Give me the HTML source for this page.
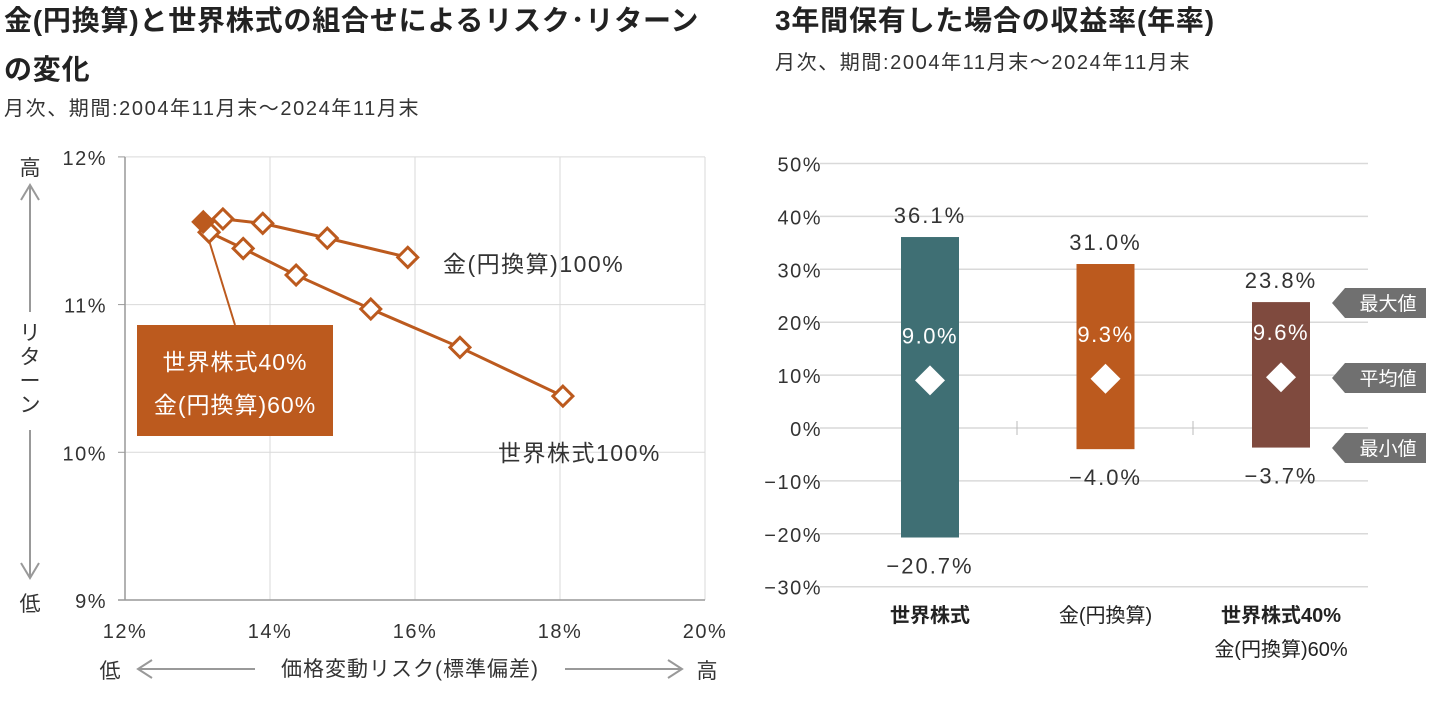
<!DOCTYPE html>
<html><head><meta charset="utf-8">
<style>
html,body{margin:0;padding:0;background:#fff;}
body{width:1440px;height:702px;overflow:hidden;font-family:"Liberation Sans","Noto Sans CJK JP",sans-serif;}
svg text{font-family:"Liberation Sans","Noto Sans CJK JP",sans-serif;}
</style></head>
<body>
<svg id="chart" width="1440" height="702" viewBox="0 0 1440 702">
<g>
<text x="4" y="30" font-size="28" font-weight="bold" fill="#222" letter-spacing="0.8">金(円換算)と世界株式の組合せによるリスク･リターン</text>
<text x="4" y="79" font-size="28" font-weight="bold" fill="#222" letter-spacing="0.8">の変化</text>
<text x="4" y="115" font-size="20" fill="#333" letter-spacing="1.6">月次、期間:2004年11月末～2024年11月末</text>
</g>
<g>
<text x="775" y="30" font-size="28" font-weight="bold" fill="#222" letter-spacing="0.8">3年間保有した場合の収益率(年率)</text>
<text x="775" y="69" font-size="20" fill="#333" letter-spacing="1.6">月次、期間:2004年11月末～2024年11月末</text>
</g>
<g id="left"></g>
<g id="right"></g>
</svg>
<script>
// Left chart data: risk (x, %) and return (y, %) for world-stock weights 100%..0%
const weights = [100,90,80,70,60,50,40,30,20,10,0];
const riskValues = [18.04,16.62,15.39,14.36,13.63,13.16,13.08,13.35,13.90,14.79,15.90];
const returnValues = [10.38,10.71,10.97,11.20,11.38,11.49,11.56,11.58,11.55,11.45,11.32];
const xTicks = [12,14,16,18,20];
const yTicks = [9,10,11,12];
// Right chart data
const categories = ["世界株式","金(円換算)","世界株式40%|金(円換算)60%"];
const maxValues = [36.1,31.0,23.8];
const meanValues = [9.0,9.3,9.6];
const minValues = [-20.7,-4.0,-3.7];
const rTicks = [-30,-20,-10,0,10,20,30,40,50];

const NS="http://www.w3.org/2000/svg";
function mk(tag,attrs,parent,text){const e=document.createElementNS(NS,tag);for(const k in attrs)e.setAttribute(k,attrs[k]);if(text!==undefined)e.textContent=text;parent.appendChild(e);return e;}

// ---- Left chart
const L=document.getElementById('left');
const lx=v=>125+(v-12)*72.5;
const ly=v=>600-(v-9)*147.7;
xTicks.forEach((t,i)=>{
  if(i>0){const g=mk('line',{x1:lx(t),x2:lx(t),y1:157,y2:600,stroke:'#d9d9d9','stroke-width':1},L);
  }
  const tl=mk('text',{x:lx(t),y:638,'font-size':20,fill:'#333','text-anchor':'middle','letter-spacing':1.5},L,t+'%');
  
});
yTicks.forEach(t=>{
  if(t>9){const g=mk('line',{x1:125,x2:705,y1:ly(t),y2:ly(t),stroke:'#d9d9d9','stroke-width':1},L);
  }
  const tk=mk('line',{x1:118,x2:125,y1:ly(t),y2:ly(t),stroke:'#999'},L);
  
  const tl=mk('text',{x:107,y:ly(t)+8,'font-size':20,fill:'#333','text-anchor':'end','letter-spacing':1.5},L,t+'%');
  
});
const ax=mk('line',{x1:125,x2:125,y1:157,y2:600,stroke:'#999','stroke-width':1.5},L);

const ax2=mk('line',{x1:118,x2:705,y1:600,y2:600,stroke:'#999','stroke-width':1.5},L);

// y-axis title arrows
const yt=mk('g',{},L);
mk('text',{x:30,y:175,'font-size':21,fill:'#333','text-anchor':'middle'},yt,'高');
mk('text',{x:30,y:611,'font-size':21,fill:'#333','text-anchor':'middle'},yt,'低');
mk('path',{d:'M30,312 V185 M21,200 L30,185 L39,200',stroke:'#999','stroke-width':2,fill:'none'},yt);
mk('path',{d:'M30,430 V578 M21,563 L30,578 L39,563',stroke:'#999','stroke-width':2,fill:'none'},yt);
['リ','タ','ー','ン'].forEach((c,i)=>mk('text',{x:30,y:340+i*24,'font-size':21,fill:'#333','text-anchor':'middle'},yt,c));
// x-axis title
const xt=mk('g',{},L);
mk('text',{x:110,y:678,'font-size':21,fill:'#333','text-anchor':'middle'},xt,'低');
mk('text',{x:707,y:678,'font-size':21,fill:'#333','text-anchor':'middle'},xt,'高');
mk('text',{x:410,y:676,'font-size':21,fill:'#333','text-anchor':'middle','letter-spacing':1},xt,'価格変動リスク(標準偏差)');
mk('path',{d:'M255,669 H138 M152,660 L138,669 L152,678',stroke:'#999','stroke-width':2,fill:'none'},xt);
mk('path',{d:'M565,669 H682 M668,660 L682,669 L668,678',stroke:'#999','stroke-width':2,fill:'none'},xt);
// line
const pts=riskValues.map((r,i)=>lx(r)+','+ly(returnValues[i])).join(' ');
const pl=mk('polyline',{points:pts,fill:'none',stroke:'#bc5a1e','stroke-width':3},L);

// annotation leader
const hi=weights.indexOf(40);
const ld=mk('line',{x1:235,y1:325,x2:lx(riskValues[hi]),y2:ly(returnValues[hi]),stroke:'#bc5a1e','stroke-width':2},L);

riskValues.forEach((r,i)=>{
  const cx=lx(r),cy=ly(returnValues[i]),s=10;
  const d=mk('path',{d:`M${cx},${cy-s} L${cx+s},${cy} L${cx},${cy+s} L${cx-s},${cy} Z`,fill:i===hi?'#bc5a1e':'#fff',stroke:'#bc5a1e','stroke-width':3},L);
  
});
const ab=mk('g',{},L);
mk('rect',{x:137,y:325,width:196,height:111,fill:'#bc5a1e'},ab);
mk('text',{x:235,y:370,'font-size':23,fill:'#fff','text-anchor':'middle','letter-spacing':1},ab,'世界株式40%');
mk('text',{x:235,y:413,'font-size':23,fill:'#fff','text-anchor':'middle','letter-spacing':1},ab,'金(円換算)60%');
const g1=mk('text',{x:443,y:272,'font-size':23,fill:'#333','letter-spacing':1.5},L,'金(円換算)100%');

const g2=mk('text',{x:498,y:461,'font-size':23,fill:'#333','letter-spacing':1.5},L,'世界株式100%');


// ---- Right chart
const R=document.getElementById('right');
const ry=v=>428-v*5.29;
const cx=i=>930+i*175.5;
const colors=['#3f6f74','#bc5a1e','#7f4a3e'];
rTicks.forEach(t=>{
  const g=mk('line',{x1:820,x2:1368,y1:ry(t),y2:ry(t),stroke:'#d9d9d9','stroke-width':1.5},R);
  
  const tl=mk('text',{x:822,y:ry(t)+8,'font-size':20,fill:'#333','text-anchor':'end','letter-spacing':1.5},R,(t<0?'−'+(-t):t)+'%');
  
});
[1017,1193].forEach(x=>{const t=mk('line',{x1:x,x2:x,y1:421,y2:435,stroke:'#bbb'},R);
  });
categories.forEach((c,i)=>{
  const x=cx(i);
  const b=mk('rect',{x:x-29,y:ry(maxValues[i]),width:58,height:ry(minValues[i])-ry(maxValues[i]),fill:colors[i]},R);
  
  const t1=mk('text',{x:x,y:ry(maxValues[i])-14,'font-size':22,fill:'#333','text-anchor':'middle','letter-spacing':2},R,maxValues[i].toFixed(1)+'%');
  
  const t2=mk('text',{x:x,y:ry(minValues[i])+36,'font-size':22,fill:'#333','text-anchor':'middle','letter-spacing':2},R,'−'+(-minValues[i]).toFixed(1)+'%');
  
  const my=ry(meanValues[i]),s=15;
  const d=mk('path',{d:`M${x},${my-s} L${x+s},${my} L${x},${my+s} L${x-s},${my} Z`,fill:'#fff'},R);
  
  const t3=mk('text',{x:x,y:my-37,'font-size':22,fill:'#fff','text-anchor':'middle','letter-spacing':1.5},R,meanValues[i].toFixed(1)+'%');
  
  c.split('|').forEach((ln,j)=>{
    const cl=mk('text',{x:x,y:622+j*34,'font-size':20,fill:'#222','text-anchor':'middle','font-weight':j===0&&i!==1?'bold':'normal'},R,ln);
    
  });
});
[['最大値',303],['平均値',378],['最小値',448]].forEach(([t,y])=>{
  const g=mk('g',{},R);
  mk('path',{d:`M1345,${y-15} H1426 V${y+15} H1345 L1332,${y} Z`,fill:'#707070'},g);
  mk('text',{x:1388,y:y+7,'font-size':19,fill:'#fff','text-anchor':'middle'},g,t);
});
</script>
</body></html>
